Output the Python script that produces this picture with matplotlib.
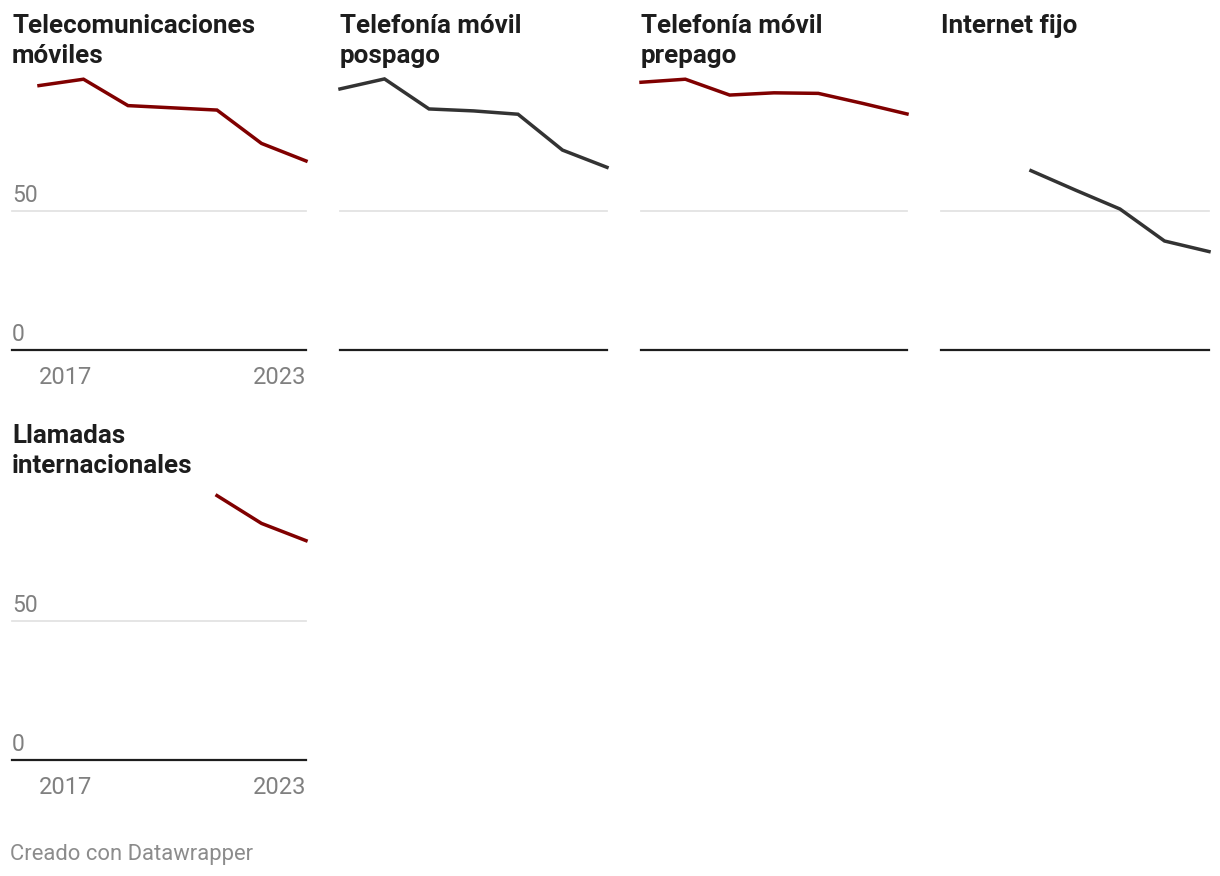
import numpy as np
import matplotlib.pyplot as plt
from matplotlib.transforms import offset_copy

# --- datos (indice) ---
anios = [2017, 2018, 2019, 2020, 2021, 2022, 2023]
nan = np.nan

titulos = [
    "Telecomunicaciones\nmóviles",
    "Telefonía móvil\npospago",
    "Telefonía móvil\nprepago",
    "Internet fijo",
    "Llamadas\ninternacionales",
]
tele_moviles = [95.0, 97.3, 87.8, 87.0, 86.2, 74.2, 67.9]
movil_pospago = [93.8, 97.4, 86.6, 85.9, 84.7, 71.8, 65.6]
movil_prepago = [96.2, 97.3, 91.6, 92.4, 92.2, 88.6, 84.8]
internet_fijo = [nan, nan, 64.4, 57.4, 50.6, 39.1, 35.3]
llamadas_int = [nan, nan, nan, nan, 95.0, 85.0, 78.8]
series = [tele_moviles, movil_pospago, movil_prepago, internet_fijo, llamadas_int]

colores = ["#800000", "#333333", "#800000", "#333333", "#800000"]
y_ticks = [0, 50]
x_ticks = [2017, 2023]

TXT = "#1d1d1d"
GRIS = "#808080"

plt.rcParams["font.family"] = ["Roboto", "DejaVu Sans"]

W, H = 1220, 876
fig = plt.figure(figsize=(W / 100, H / 100), dpi=100)
fig.patch.set_facecolor("white")


def caja(left, top, right, bottom):
    """Convierte una caja en pixeles a fraccion de figura."""
    return [left / W, 1 - bottom / H, (right - left) / W, (bottom - top) / H]


# posiciones de cada panel (pixeles): borde de rejilla, inicio/fin de datos, fila
col_grid = [12, 340, 641, 941]
col_data = [(39, 306), (340, 607), (641, 907), (942, 1209)]
fila_y = [(71.7, 349.7), (481.7, 759.7)]

for i, (titulo, valores, color) in enumerate(zip(titulos, series, colores)):
    fila, col = divmod(i, 4)
    x0, x1 = col_data[col]
    top, bottom = fila_y[fila]
    ax = fig.add_axes(caja(x0, top, x1, bottom))
    ax.set_xlim(anios[0], anios[-1])
    ax.set_ylim(0, 100)
    ax.axis("off")

    # la rejilla arranca donde arrancan las etiquetas del eje y
    gx = (col_grid[col] - x0) / (x1 - x0)
    ty = ax.get_yaxis_transform()
    ax.plot([gx, 1], [50, 50], color="#e3e3e3", lw=1.3, transform=ty,
            clip_on=False, zorder=1)
    ax.plot([gx, 1], [0, 0], color="#1d1d1d", lw=1.6, transform=ty,
            clip_on=False, zorder=3)

    ax.plot(anios, valores, color=color, lw=2.5, solid_joinstyle="miter",
            clip_on=False, zorder=4)

    if col == 0:
        tlab = offset_copy(ty, fig=fig, y=9, units="dots")
        for v in y_ticks:
            ax.text(gx, v, str(v), transform=tlab, ha="left", va="baseline",
                    fontsize=16.5, color=GRIS)
        txl = offset_copy(ax.transData, fig=fig, y=-34, units="dots")
        ax.text(x_ticks[0], 0, str(x_ticks[0]), transform=txl, ha="left",
                va="baseline", fontsize=17, color=GRIS)
        ax.text(x_ticks[1], 0, str(x_ticks[1]), transform=txl, ha="right",
                va="baseline", fontsize=17, color=GRIS)

    # titulo, linea a linea
    base = 33 if fila == 0 else 443
    for k, linea in enumerate(titulo.split("\n")):
        fig.text(col_grid[col] / W, 1 - (base + 30 * k) / H, linea,
                 ha="left", va="baseline", fontsize=18.7, fontweight="bold",
                 color=TXT)

fig.text(10 / W, 1 - 860 / H, "Creado con Datawrapper", ha="left",
         va="baseline", fontsize=15.8, color="#8c8c8c")

fig.savefig("out.png", dpi=100, facecolor="white")
